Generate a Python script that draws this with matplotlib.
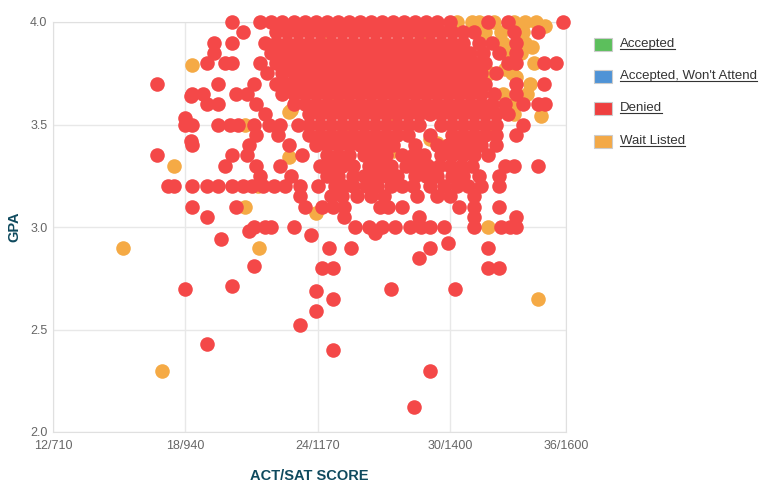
import matplotlib.pyplot as plt
from matplotlib.patches import Rectangle
from matplotlib.lines import Line2D

plt.rcParams['font.family'] = ['Liberation Sans', 'DejaVu Sans']

# Denied applicants, grouped by GPA row: (gpa, [act scores])
denied_rows = [
    (4.00, [20.1, 21.4, 21.9, 22.4, 22.9, 23.4, 23.9, 24.4, 24.9, 25.4, 25.9, 26.4, 26.9,
            27.4, 27.9, 28.4, 28.9, 29.4, 30.0, 31.7, 32.6, 35.1]),
    (3.95, [20.6, 22.1, 22.6, 23.1, 23.6, 24.1, 24.6, 25.1, 25.6, 26.1, 26.6, 27.1, 27.6,
            28.1, 28.6, 29.1, 29.6, 30.1, 30.6, 31.1, 32.9, 34.0]),
    (3.90, [19.3, 20.1, 21.6, 22.1, 22.6, 23.1, 23.6, 24.1, 24.6, 25.1, 25.6, 26.1, 26.6,
            27.1, 27.6, 28.1, 28.6, 29.1, 29.6, 30.1, 30.6, 31.3, 31.9, 33.0]),
    (3.85, [19.3, 21.9, 22.4, 22.9, 23.4, 23.9, 24.4, 24.9, 25.4, 25.9, 26.4, 26.9, 27.4,
            27.9, 28.4, 28.9, 29.4, 29.9, 30.4, 30.9, 31.5, 32.2, 33.0]),
    (3.80, [19.0, 19.8, 20.1, 21.4, 22.1, 22.6, 23.1, 23.6, 24.1, 24.6, 25.1, 25.6, 26.1,
            26.6, 27.1, 27.6, 28.1, 28.6, 29.1, 29.6, 30.1, 30.6, 31.1, 31.6, 32.6, 33.0,
            34.25, 34.8]),
    (3.75, [21.7, 22.4, 22.9, 23.4, 23.9, 24.4, 24.9, 25.4, 25.9, 26.4, 26.9, 27.4, 27.9,
            28.4, 28.9, 29.4, 29.9, 30.4, 30.9, 31.4, 32.1]),
    (3.70, [16.7, 19.5, 21.1, 22.1, 22.6, 23.1, 23.6, 24.1, 24.6, 25.1, 25.6, 26.1, 26.6,
            27.1, 27.6, 28.1, 28.6, 29.1, 29.6, 30.1, 30.6, 31.1, 31.6, 33.0, 34.25]),
    (3.65, [18.3, 18.8, 20.3, 20.8, 22.4, 22.9, 23.4, 23.9, 24.4, 24.9, 25.4, 25.9, 26.4,
            26.9, 27.4, 27.9, 28.4, 28.9, 29.4, 29.9, 30.4, 30.9, 31.4, 32.0, 33.0]),
    (3.60, [19.0, 19.5, 21.2, 22.9, 23.4, 23.9, 24.4, 24.9, 25.4, 25.9, 26.4, 26.9, 27.4,
            27.9, 28.4, 28.9, 29.4, 29.9, 30.4, 30.9, 31.4, 31.9, 32.5, 33.3, 34.0, 34.3]),
    (3.55, [21.6, 23.6, 24.1, 24.6, 25.1, 25.6, 26.1, 26.6, 27.1, 27.6, 28.1, 28.6, 29.1,
            29.6, 30.1, 30.6, 31.1, 31.6, 32.1, 32.6]),
    (3.50, [18.0, 18.3, 19.5, 20.0, 20.4, 21.1, 21.8, 22.3, 23.1, 23.6, 24.1, 24.6, 25.1,
            25.6, 26.1, 26.6, 27.1, 27.6, 28.1, 28.6, 29.6, 30.1, 30.6, 31.1, 31.6, 32.1, 33.3]),
    (3.45, [21.2, 22.2, 23.6, 24.1, 24.6, 25.1, 25.6, 26.1, 26.6, 27.1, 27.6, 28.1, 29.1,
            30.1, 30.6, 31.1, 31.6, 32.1, 33.0]),
    (3.40, [18.3, 20.9, 22.7, 23.9, 24.4, 24.9, 25.4, 25.9, 26.4, 26.9, 27.4, 28.4, 29.4,
            29.9, 30.4, 30.9, 31.4, 32.1]),
    (3.35, [16.7, 20.1, 20.8, 23.3, 24.4, 24.9, 25.4, 26.1, 26.6, 27.1, 27.8, 28.3, 28.8,
            29.6, 30.1, 30.6, 31.1, 31.7]),
    (3.30, [19.8, 21.2, 22.3, 24.1, 24.6, 25.1, 25.6, 26.3, 26.8, 27.3, 28.0, 28.5, 29.0,
            29.5, 30.0, 30.5, 31.0, 32.5, 32.9, 34.0]),
    (3.25, [21.4, 22.8, 24.4, 24.9, 25.6, 26.1, 26.6, 27.1, 27.6, 28.4, 28.9, 29.4, 30.1,
            30.6, 31.3, 32.2]),
    (3.20, [17.2, 17.5, 18.3, 19.0, 19.5, 20.1, 20.6, 21.0, 21.5, 22.0, 22.5, 23.2, 24.0,
            24.8, 25.2, 25.6, 26.2, 26.7, 27.3, 27.8, 28.3, 29.1, 29.7, 30.3, 30.8, 31.4, 32.2]),
    (3.15, [23.2, 24.6, 25.1, 25.8, 26.4, 27.0, 28.5, 29.4, 30.0, 31.1]),
    (3.10, [18.3, 20.3, 23.4, 24.2, 24.7, 25.2, 26.8, 27.2, 27.8, 30.4, 31.1, 32.2]),
    (3.05, [19.0, 25.2, 28.6, 31.1, 33.0]),
    (3.00, [21.1, 21.6, 21.9, 22.9, 25.7, 26.3, 26.9, 27.5, 28.2, 28.7, 29.1, 29.7, 31.1,
            32.3, 32.7, 33.0]),
]

# Denied applicants outside the main rows
denied_act = [19.6, 20.9, 23.7, 26.6, 29.9, 24.5, 25.5, 29.1, 31.7, 28.6, 21.1, 24.2, 24.7,
              31.7, 32.2, 18.0, 20.1, 23.9, 27.3, 30.2, 24.7, 23.9, 23.2, 19.0, 24.7, 29.1,
              28.35, 18.25, 18.0, 18.25]
denied_gpa = [2.94, 2.98, 2.96, 2.97, 2.92, 2.90, 2.90, 2.90, 2.90, 2.85, 2.81, 2.80, 2.80,
              2.80, 2.80, 2.70, 2.71, 2.69, 2.70, 2.70, 2.65, 2.59, 2.52, 2.43, 2.40, 2.30,
              2.12, 3.42, 3.53, 3.64]

# Wait listed applicants
wait_act = [15.15, 16.95, 17.5, 18.3, 20.7, 20.7, 21.35, 21.3, 23.9, 31.7, 34.0, 34.1,
            33.9, 34.3, 33.8, 33.7, 33.6, 32.5, 33.0, 32.9, 31.8, 29.1, 28.85,
            30.3, 31.0, 31.3, 32.0, 32.9, 33.4, 31.6, 32.3, 33.3, 32.4, 33.4, 32.7, 33.2,
            31.8, 32.8, 32.4, 33.5, 32.9, 22.7, 22.7, 25.4, 27.4, 28.6, 29.4, 27.6,
            24.2, 22.8, 25.2, 27.3, 28.7, 26.0, 24.9]
wait_gpa = [2.90, 2.30, 3.30, 3.79, 3.50, 3.10, 2.90, 3.20, 3.07, 3.00, 2.65, 3.54,
            4.00, 3.98, 3.80, 3.88, 3.70, 3.77, 3.73, 3.55, 3.46, 3.43, 3.31,
            4.00, 4.00, 4.00, 4.00, 4.00, 4.00, 3.95, 3.95, 3.95, 3.90, 3.90, 3.85, 3.85,
            3.75, 3.75, 3.65, 3.65, 3.60, 3.56, 3.34, 3.46, 3.37, 3.29, 3.41, 3.59,
            3.95, 3.57, 3.47, 3.54, 3.91, 3.57, 3.63]

x_ticks = [12, 18, 24, 30, 35.25]
x_labels = ['12/710', '18/940', '24/1170', '30/1400', '36/1600']
y_ticks = [2.0, 2.5, 3.0, 3.5, 4.0]

legend_names = ['Accepted', "Accepted, Won't Attend", 'Denied', 'Wait Listed']
legend_colors = ['#5cbf5c', '#4f93d6', '#ee3f3f', '#f3a947']

RED = '#f44848'
ORANGE = '#f5aa45'

fig = plt.figure(figsize=(7.68, 4.87), dpi=100)
W, H = 768, 487
ax = fig.add_axes([53 / W, 1 - 432 / H, (566 - 53) / W, (432 - 22) / H])

red_x, red_y = [], []
for gpa, acts in denied_rows:
    red_x += acts
    red_y += [gpa] * len(acts)
red_x += denied_act
red_y += denied_gpa

ax.scatter(wait_act, wait_gpa, s=110, color=ORANGE, linewidths=0, zorder=3, clip_on=False)
ax.scatter(red_x, red_y, s=110, color=RED, linewidths=0, zorder=4, clip_on=False)

ax.set_xlim(12, 35.25)
ax.set_ylim(2.0, 4.0)
ax.set_xticks(x_ticks)
ax.set_xticklabels(x_labels)
ax.set_yticks(y_ticks)
ax.set_yticklabels(['%.1f' % v for v in y_ticks])
ax.grid(True, color='#e8e8e8', linewidth=1)
ax.set_axisbelow(True)
for sp in ax.spines.values():
    sp.set_color('#e0e0e0')
ax.tick_params(axis='x', length=0, colors='#666666', labelsize=9, pad=6)
ax.tick_params(axis='y', length=0, colors='#666666', labelsize=9, pad=4)

ax.set_xlabel('ACT/SAT SCORE', fontsize=10.5, fontweight='bold', color='#0f4a5e', labelpad=12)
ax.set_ylabel('GPA', fontsize=10.5, fontweight='bold', color='#0f4a5e', labelpad=6)

# legend at the right, drawn by hand (underlined names)
row_y = [44, 76, 108, 141]
texts = []
for name, col, py in zip(legend_names, legend_colors, row_y):
    fig.patches.append(Rectangle((594 / W, 1 - (py + 7) / H), 18 / W, 13 / H,
                                 transform=fig.transFigure, facecolor=col,
                                 edgecolor='#cccccc', linewidth=0.8))
    t = fig.text(620 / W, 1 - py / H, name, fontsize=9.5, color='#333333', va='center', ha='left')
    texts.append(t)

fig.canvas.draw()
r = fig.canvas.get_renderer()
for t in texts:
    bb = t.get_window_extent(r).transformed(fig.transFigure.inverted())
    fig.add_artist(Line2D([bb.x0, bb.x1], [bb.y0 + 1 / H, bb.y0 + 1 / H], transform=fig.transFigure,
                          color='#333333', linewidth=0.8))

fig.savefig('out.png', dpi=100)
